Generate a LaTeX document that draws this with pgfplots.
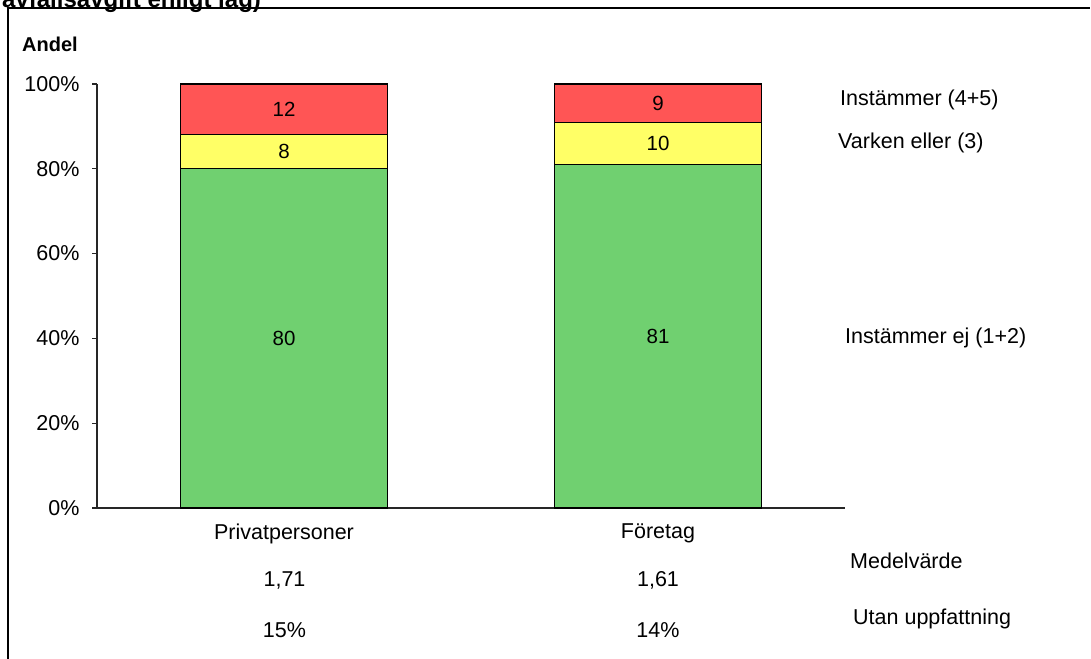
\documentclass[border=0pt]{standalone}
\usepackage{pgfplots}
\pgfplotsset{compat=1.18}
\usepackage{fontspec}
\setmainfont{Liberation Sans}

\definecolor{barred}{RGB}{255,85,85}
\definecolor{baryellow}{RGB}{255,255,102}
\definecolor{bargreen}{RGB}{112,208,112}

\begin{document}
\begin{tikzpicture}[font=\fontsize{21.5}{25}\selectfont]
\useasboundingbox (0pt,0pt) rectangle (1091pt,658pt);

% frame and cut-off heading
\draw[line width=2pt] (7.5pt,-20pt) -- (7.5pt,649.5pt) -- (1090pt,649.5pt);
\node[anchor=base west, inner sep=0pt, font=\fontsize{24}{28}\selectfont\bfseries]
  at (2pt,650.5pt) {avfallsavgift enligt lag)};
\node[anchor=west, inner sep=0pt, font=\fontsize{20}{24}\selectfont\bfseries]
  at (22pt,614pt) {Andel};

\begin{axis}[
    at={(97pt,150pt)}, anchor=south west,
    scale only axis,
    width=748pt, height=424pt,
    ybar stacked,
    bar width=0.554,
    xmin=-0.5, xmax=1.5,
    ymin=0, ymax=100,
    xtick={0,1},
    xticklabels={Privatpersoner, Företag},
    ytick={0,20,40,60,80,100},
    yticklabels={0\%,20\%,40\%,60\%,80\%,100\%},
    axis x line=bottom, axis y line=left,
    axis line style={-, line width=1.3pt, black!85},
    x tick style={draw=none},
    y tick style={line width=1.3pt, black!85},
    tick align=outside,
    major tick length=5pt,
    xticklabel style={yshift=-7pt},
    yticklabel style={xshift=-9pt},
    every axis plot/.append style={draw=black, line width=1.2pt},
    /pgf/number format/assume math mode=true,
    nodes near coords,
    every node near coord/.append style={
        anchor=center,
        text=black,
        font=\fontsize{20.5}{24}\selectfont
    },
    clip=false
]
\addplot[fill=bargreen] coordinates {(0,80) (1,81)};
\addplot[fill=baryellow] coordinates {(0,8) (1,10)};
\addplot[fill=barred] coordinates {(0,12) (1,9)};
\end{axis}

% series names on the right
\node[anchor=west, inner sep=0pt] at (840pt,558pt) {Instämmer (4+5)};
\node[anchor=west, inner sep=0pt] at (838pt,515pt) {Varken eller (3)};
\node[anchor=west, inner sep=0pt] at (845pt,320pt) {Instämmer ej (1+2)};

% table below the chart
\node[anchor=west, inner sep=0pt] at (850pt,97pt) {Medelvärde};
\node[anchor=west, inner sep=0pt] at (853pt,39pt) {Utan uppfattning};
\node[inner sep=0pt] at (284.5pt,78pt) {1,71};
\node[inner sep=0pt] at (658pt,78pt) {1,61};
\node[inner sep=0pt] at (284.5pt,28pt) {15\%};
\node[inner sep=0pt] at (658pt,28pt) {14\%};
\end{tikzpicture}
\end{document}
